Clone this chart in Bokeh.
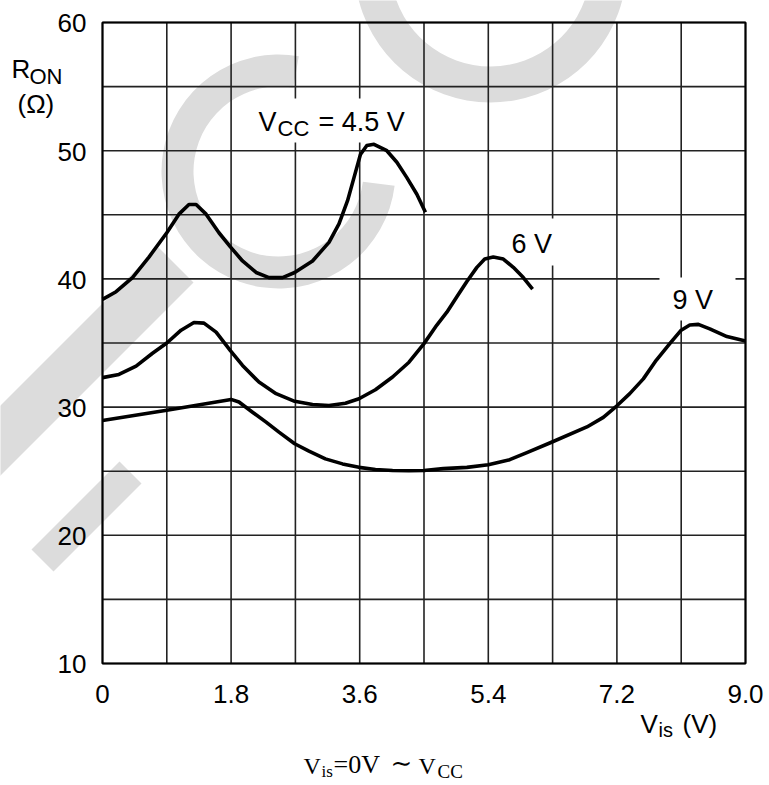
from bokeh.plotting import figure
from bokeh.models import Label
from bokeh.core.properties import value
from bokeh.embed import file_html
from bokeh.resources import INLINE

# ---------------- data ----------------
vis_45 = [0, 0.19, 0.42, 0.65, 0.90, 1.07, 1.21, 1.31, 1.45, 1.63, 1.79, 1.96, 2.15, 2.33,
          2.52, 2.69, 2.94, 3.17, 3.31, 3.43, 3.52, 3.61, 3.70, 3.80, 3.98, 4.12, 4.26, 4.40, 4.52]
ron_45 = [38.4, 39.0, 40.1, 41.7, 43.6, 45.05, 45.8, 45.8, 45.05, 43.6, 42.5, 41.4, 40.5, 40.1,
          40.1, 40.5, 41.4, 42.85, 44.3, 46.1, 47.9, 49.7, 50.4, 50.5, 50.0, 49.1, 47.9, 46.6, 45.2]

vis_6 = [0, 0.23, 0.47, 0.70, 0.90, 1.10, 1.28, 1.42, 1.59, 1.79, 1.96, 2.19, 2.43, 2.69, 2.94,
         3.17, 3.40, 3.59, 3.82, 4.06, 4.29, 4.50, 4.68, 4.82, 4.96, 5.10, 5.24, 5.35, 5.47,
         5.61, 5.75, 5.89, 6.02]
ron_6 = [32.3, 32.55, 33.2, 34.2, 35.0, 36.0, 36.6, 36.55, 35.85, 34.4, 33.25, 31.95, 31.05, 30.45,
         30.2, 30.13, 30.3, 30.65, 31.35, 32.35, 33.5, 34.95, 36.4, 37.4, 38.6, 39.8, 40.9, 41.55,
         41.7, 41.55, 40.9, 40.1, 39.2]

vis_9 = [0, 0.9, 1.80, 1.91, 2.10, 2.29, 2.47, 2.69, 2.89, 3.12, 3.36, 3.59, 3.82, 4.06, 4.29,
         4.50, 4.77, 5.10, 5.40, 5.70, 5.94, 6.26, 6.78, 7.01, 7.20, 7.38, 7.57, 7.75, 7.94,
         8.10, 8.22, 8.34, 8.50, 8.74, 9.0]
ron_9 = [28.95, 29.75, 30.6, 30.4, 29.6, 28.83, 28.05, 27.14, 26.56, 25.96, 25.57, 25.3, 25.13,
         25.05, 25.03, 25.05, 25.2, 25.3, 25.5, 25.9, 26.45, 27.2, 28.45, 29.2, 30.1, 31.05, 32.2,
         33.65, 34.95, 36.0, 36.4, 36.45, 36.1, 35.5, 35.15]

x_ticks = [0, 1.8, 3.6, 5.4, 7.2, 9.0]
x_tick_labels = ["0", "1.8", "3.6", "5.4", "7.2", "9.0"]
x_minor = [0.9, 2.7, 4.5, 6.3, 8.1]
y_ticks = [10, 20, 30, 40, 50, 60]
y_tick_labels = ["10", "20", "30", "40", "50", "60"]
y_minor = [15, 25, 35, 45, 55]

# ---------------- layout ----------------
X0, X1, Y0, Y1 = 0, 9, 10, 60          # chart box in data units
BOX_L, BOX_T, BOX_W, BOX_H = 102, 22, 643, 641   # chart box in page pixels
W, H = 769, 785
FONT = "Liberation Sans"
SERIF = "Liberation Serif"
BASE_FIX = 0.33   # measured shift of the rendered alphabetic baseline, in em


def at(px, py):
    """page pixel position -> data coordinates"""
    return (X0 + (px - BOX_L) / BOX_W * (X1 - X0),
            Y1 - (py - BOX_T) / BOX_H * (Y1 - Y0))


xs0, ys1 = at(0, 0)
xs1, ys0 = at(W, H)

# the frame covers the whole canvas so texts outside the chart box are not clipped
p = figure(width=W, height=H, x_range=(xs0, xs1), y_range=(ys0, ys1),
           output_backend="svg", toolbar_location=None, title_location=None,
           x_axis_type=None, y_axis_type=None, min_border=0)
p.outline_line_color = None
p.background_fill_color = "white"
p.border_fill_color = "white"

# ---------------- watermark (light grey letters behind the grid) ----------------
WM = "#dcdcdc"
cx, cy = at(278, 171)
r = p.annular_wedge(x=[cx], y=[cy], inner_radius=85, outer_radius=117,
                    inner_radius_units="screen", outer_radius_units="screen",
                    start_angle=80, end_angle=353, start_angle_units="deg", end_angle_units="deg",
                    fill_color=WM, line_color=None)
r.level = "image"
cx2, cy2 = at(490, -34)
r2 = p.annular_wedge(x=[cx2], y=[cy2], inner_radius=100, outer_radius=136,
                     inner_radius_units="screen", outer_radius_units="screen",
                     start_angle=190, end_angle=350, start_angle_units="deg", end_angle_units="deg",
                     fill_color=WM, line_color=None)
r2.level = "image"
polys = ([(158, 247), (193, 282), (-20, 495), (-55, 460)],
         [(119, 461), (141, 483), (53, 571), (31, 549)])
pxs, pys = [], []
for poly in polys:
    pts = [at(a, b) for a, b in poly]
    pxs.append([q[0] for q in pts])
    pys.append([q[1] for q in pts])
r3 = p.patches(pxs, pys, fill_color=WM, line_color=None)
r3.level = "image"

# ---------------- grid (from the tick arrays) ----------------
gx = sorted(x_ticks + x_minor)
gy = sorted(y_ticks + y_minor)
p.segment(x0=gx, y0=[Y0] * len(gx), x1=gx, y1=[Y1] * len(gx), line_color="#222222", line_width=1.6)
p.segment(x0=[X0] * len(gy), y0=gy, x1=[X1] * len(gy), y1=gy, line_color="#222222", line_width=1.6)

# ---------------- white backgrounds behind the curve labels ----------------
boxes = ((245, 98, 420, 142), (498, 218, 575, 265), (659, 277, 735, 320))
ql, qr, qt, qb = [], [], [], []
for (l, t, rr, b) in boxes:
    a, c = at(l, t)
    d, e = at(rr, b)
    ql.append(a); qt.append(c); qr.append(d); qb.append(e)
p.quad(left=ql, right=qr, top=qt, bottom=qb, fill_color="white", line_color=None)

# ---------------- curves ----------------
for xs, ys in ((vis_45, ron_45), (vis_6, ron_6), (vis_9, ron_9)):
    p.line(xs, ys, line_width=3.6, line_color="black", line_join="round")

# chart box border
p.rect(x=[(X0 + X1) / 2], y=[(Y0 + Y1) / 2], width=[X1 - X0], height=[Y1 - Y0],
       fill_color=None, line_color="black", line_width=2)

# ---------------- tick labels ----------------
TICK = 26
p.text(x=x_ticks, y=[Y0] * len(x_ticks), text=x_tick_labels, y_offset=39 - BASE_FIX * TICK,
       text_align="center", text_baseline="alphabetic",
       text_font=value(FONT), text_font_size=value(f"{TICK}px"), text_color="black")
p.text(x=[X0] * len(y_ticks), y=y_ticks, text=y_tick_labels, x_offset=-16,
       y_offset=9.5 - BASE_FIX * TICK,
       text_align="right", text_baseline="alphabetic",
       text_font=value(FONT), text_font_size=value(f"{TICK}px"), text_color="black")


def add_text(text, px, py, size, font=FONT):
    x, y = at(px, py - BASE_FIX * size)
    p.add_layout(Label(x=x, y=y, text=text, text_font=font, text_font_size=f"{size}px",
                       text_color="black", text_baseline="alphabetic", text_align="left"))


# curve labels
add_text("V", 258, 130, 27)
add_text("CC", 277, 135, 22)
add_text("= 4.5 V", 318, 130, 27)
add_text("6 V", 511, 252, 27)
add_text("9 V", 672, 308, 27)

# axis titles
add_text("R", 11, 77, 26)
add_text("ON", 29, 83, 22)
add_text("(Ω)", 17, 112, 26)
add_text("V", 640, 732, 26)
add_text("is", 658, 736, 20)
add_text("(V)", 682, 732, 26)

# caption
add_text("V", 303, 773, 24, SERIF)
add_text("is", 321, 777, 17, SERIF)
add_text("=0V", 333, 773, 26, SERIF)
add_text("∼", 390, 771, 26, "DejaVu Serif")
add_text("V", 418, 773, 24, SERIF)
add_text("CC", 437, 777, 19, SERIF)

open("out.html", "w").write(file_html(p, INLINE))
